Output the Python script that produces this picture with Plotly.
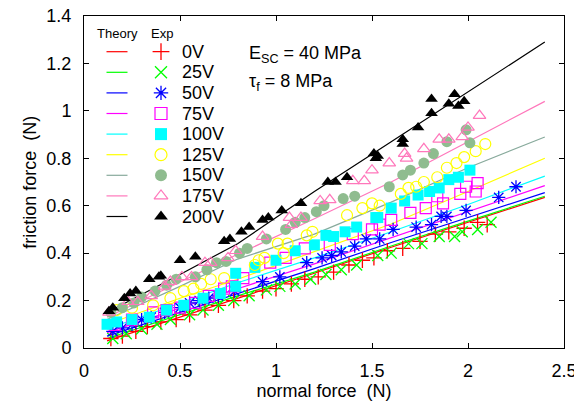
import plotly.graph_objects as go

# ---------------- data ----------------
labels = ["0V", "25V", "50V", "75V", "100V", "125V", "150V", "175V", "200V"]
colors = ["#ff0000", "#00ff00", "#0000ff", "#ff00ff", "#00ffff", "#ffff00",
          "#8fbc8f", "#ff77bb", "#000000"]
line_colors = ["#ff0000", "#00ff00", "#0000ff", "#ff00ff", "#00ffff", "#ffff00",
               "#88aa9c", "#ff77bb", "#000000"]
symbols = ["cross-thin", "x-thin", "asterisk", "square-open", "square",
           "circle-open", "circle", "triangle-up-open", "triangle-up"]

theory_x = [0.12, 0.5, 0.8, 1.2, 1.6, 2.0, 2.4]
theory_0 = [0.03, 0.13, 0.21, 0.315, 0.425, 0.53, 0.635]
theory_25 = [0.04, 0.14, 0.22, 0.32, 0.43, 0.535, 0.64]
theory_50 = [0.05, 0.15, 0.23, 0.335, 0.445, 0.55, 0.655]
theory_75 = [0.065, 0.17, 0.25, 0.355, 0.465, 0.575, 0.685]
theory_100 = [0.08, 0.19, 0.275, 0.38, 0.49, 0.605, 0.725]
theory_125 = [0.10, 0.21, 0.29, 0.405, 0.523, 0.66, 0.80]
theory_150 = [0.12, 0.26, 0.375, 0.48, 0.615, 0.76, 0.89]
theory_175 = [0.13, 0.28, 0.395, 0.545, 0.70, 0.87, 1.04]
theory_200 = [0.15, 0.31, 0.44, 0.66, 0.87, 1.08, 1.29]

exp_x_0 = [0.14, 0.2, 0.27, 0.33, 0.4, 0.48, 0.55, 0.63, 0.7, 0.78, 0.85, 0.93, 1.0, 1.08,
           1.15, 1.22, 1.3, 1.38, 1.45, 1.51, 1.58, 1.66, 1.75, 1.83, 1.90, 1.98, 2.05, 2.10]
exp_y_0 = [0.04, 0.05, 0.07, 0.09, 0.11, 0.12, 0.14, 0.16, 0.18, 0.20, 0.22, 0.24, 0.25, 0.27,
           0.29, 0.30, 0.32, 0.35, 0.37, 0.38, 0.41, 0.42, 0.45, 0.48, 0.49, 0.505, 0.53, 0.52]

exp_x_25 = [0.15, 0.22, 0.3, 0.38, 0.45, 0.55, 0.62, 0.7, 0.78, 0.86, 0.95, 1.02, 1.10, 1.18,
            1.26, 1.34, 1.42, 1.53, 1.60, 1.69, 1.76, 1.85, 1.93, 1.97, 2.05, 2.12]
exp_y_25 = [0.04, 0.06, 0.08, 0.10, 0.12, 0.14, 0.16, 0.18, 0.20, 0.22, 0.245, 0.26, 0.27, 0.29,
            0.31, 0.33, 0.35, 0.39, 0.40, 0.44, 0.44, 0.47, 0.47, 0.49, 0.50, 0.53]

exp_x_50 = [0.15, 0.2, 0.25, 0.3, 0.35, 0.42, 0.5, 0.55, 0.6, 0.65, 0.7, 0.785, 0.93, 1.02,
            1.16, 1.24, 1.29, 1.34, 1.41, 1.47, 1.54, 1.61, 1.73, 1.81, 1.86, 1.89, 1.99,
            2.16, 2.25]
exp_y_50 = [0.07, 0.085, 0.10, 0.12, 0.13, 0.15, 0.17, 0.19, 0.20, 0.21, 0.22, 0.24, 0.28, 0.30,
            0.36, 0.38, 0.39, 0.405, 0.43, 0.46, 0.46, 0.50, 0.51, 0.52, 0.555, 0.555, 0.58,
            0.635, 0.68]

exp_x_75 = [0.16, 0.25, 0.36, 0.43, 0.50, 0.58, 0.65, 0.73, 0.77, 0.83, 0.97, 1.05, 1.15, 1.28,
            1.40, 1.50, 1.54, 1.60, 1.70, 1.78, 1.84, 1.87, 1.96, 1.99, 2.04, 2.05]
exp_y_75 = [0.097, 0.12, 0.15, 0.16, 0.17, 0.19, 0.22, 0.25, 0.26, 0.295, 0.36, 0.38, 0.42, 0.435,
            0.48, 0.50, 0.52, 0.54, 0.57, 0.59, 0.64, 0.61, 0.65, 0.68, 0.66, 0.695]

exp_x_100 = [0.12, 0.17, 0.25, 0.34, 0.43, 0.52, 0.62, 0.71, 0.79, 0.79, 0.89, 1.0, 1.10, 1.20,
             1.26, 1.30, 1.36, 1.42, 1.52, 1.53, 1.60, 1.67, 1.74, 1.80, 1.85, 1.90, 1.95, 2.01]
exp_y_100 = [0.10, 0.11, 0.12, 0.13, 0.16, 0.18, 0.21, 0.23, 0.26, 0.315, 0.34, 0.37, 0.41, 0.435,
             0.475, 0.47, 0.49, 0.51, 0.55, 0.55, 0.59, 0.62, 0.645, 0.66, 0.675, 0.71, 0.72, 0.75]

exp_x_125 = [0.17, 0.25, 0.36, 0.45, 0.52, 0.57, 0.61, 0.66, 0.73, 0.89, 0.91, 0.94, 1.01, 1.04,
             1.06, 1.16, 1.19, 1.37, 1.45, 1.50, 1.54, 1.65, 1.69, 1.73, 1.77, 1.84, 1.89, 1.94,
             1.98, 2.04, 2.09]
exp_y_125 = [0.16, 0.17, 0.18, 0.21, 0.24, 0.25, 0.27, 0.29, 0.295, 0.35, 0.37, 0.38, 0.44, 0.40,
             0.44, 0.475, 0.49, 0.56, 0.59, 0.61, 0.60, 0.65, 0.675, 0.68, 0.70, 0.72, 0.76, 0.78,
             0.805, 0.83, 0.86]

exp_x_150 = [0.14, 0.2, 0.26, 0.30, 0.37, 0.43, 0.48, 0.58, 0.64, 0.69, 0.74, 0.81, 0.85, 0.95,
             1.05, 1.10, 1.15, 1.21, 1.25, 1.35, 1.41, 1.59, 1.66, 1.70, 1.77, 1.82, 1.89, 1.99,
             2.01]
exp_y_150 = [0.15, 0.17, 0.19, 0.215, 0.24, 0.265, 0.29, 0.30, 0.33, 0.36, 0.365, 0.40, 0.42, 0.46,
             0.50, 0.53, 0.55, 0.575, 0.60, 0.63, 0.64, 0.68, 0.73, 0.75, 0.78, 0.82, 0.87, 0.92,
             0.865]

exp_x_175 = [0.13, 0.23, 0.28, 0.35, 0.42, 0.45, 0.51, 0.56, 0.63, 0.66, 0.75, 0.79, 0.93, 1.07,
             1.08, 1.13, 1.23, 1.28, 1.40, 1.46, 1.50, 1.59, 1.67, 1.68, 1.77, 1.85, 1.90, 1.97,
             2.00, 2.06]
exp_y_175 = [0.15, 0.195, 0.195, 0.22, 0.26, 0.28, 0.30, 0.30, 0.36, 0.36, 0.38, 0.41, 0.47, 0.55,
             0.52, 0.55, 0.62, 0.625, 0.705, 0.705, 0.75, 0.78, 0.82, 0.80, 0.84, 0.88, 0.88, 0.89,
             0.93, 0.98]

exp_x_200 = [0.13, 0.15, 0.21, 0.24, 0.27, 0.34, 0.39, 0.40, 0.50, 0.58, 0.73, 0.76, 0.82, 0.86,
             0.93, 0.96, 1.03, 1.13, 1.27, 1.31, 1.37, 1.51, 1.52, 1.53, 1.66, 1.66, 1.74, 1.81,
             1.81, 1.90, 1.93, 1.95, 1.98]
exp_y_200 = [0.155, 0.17, 0.21, 0.23, 0.24, 0.29, 0.30, 0.305, 0.37, 0.385, 0.45, 0.46, 0.49, 0.51,
             0.54, 0.55, 0.58, 0.61, 0.70, 0.70, 0.72, 0.82, 0.80, 0.81, 0.88, 0.86, 0.93, 1.05,
             0.99, 1.03, 1.07, 1.02, 1.04]

x_ticks = [0, 0.5, 1, 1.5, 2, 2.5]
x_tick_text = ["0", "0.5", "1", "1.5", "2", "2.5"]
y_ticks = [0, 0.2, 0.4, 0.6, 0.8, 1.0, 1.2, 1.4]
y_tick_text = ["0", "0.2", "0.4", "0.6", "0.8", "1", "1.2", "1.4"]

theory_y = [theory_0, theory_25, theory_50, theory_75, theory_100,
            theory_125, theory_150, theory_175, theory_200]
exp_x = [exp_x_0, exp_x_25, exp_x_50, exp_x_75, exp_x_100,
         exp_x_125, exp_x_150, exp_x_175, exp_x_200]
exp_y = [exp_y_0, exp_y_25, exp_y_50, exp_y_75, exp_y_100,
         exp_y_125, exp_y_150, exp_y_175, exp_y_200]

FONT = "Liberation Sans, Arial, Helvetica, sans-serif"
fig = go.Figure()

# theory lines
for i in range(len(labels)):
    fig.add_trace(go.Scatter(x=theory_x, y=theory_y[i], mode="lines",
                             line=dict(color=line_colors[i], width=1.2),
                             showlegend=False, hoverinfo="skip"))


def marker_for(i, size=11):
    sym = symbols[i]
    if sym in ("cross-thin", "x-thin", "asterisk"):
        return dict(symbol=sym, size=size, color=colors[i],
                    line=dict(color=colors[i], width=1.3))
    if sym.endswith("open"):
        return dict(symbol=sym, size=size, color=colors[i],
                    line=dict(color=colors[i], width=1.2))
    return dict(symbol=sym, size=size, color=colors[i], line=dict(width=0))


# experimental points
for i in range(len(labels)):
    fig.add_trace(go.Scatter(x=exp_x[i], y=exp_y[i], mode="markers",
                             marker=marker_for(i), name=labels[i],
                             showlegend=False))

# manual two-column legend on an overlay axis measured in plot pixels
row0 = 35.7
dy = 20.6
for i in range(len(labels)):
    yy = row0 + i * dy
    fig.add_trace(go.Scatter(x=[22.5, 43.5], y=[yy, yy], mode="lines",
                             line=dict(color=line_colors[i], width=1.2),
                             xaxis="x2", yaxis="y2", showlegend=False,
                             hoverinfo="skip"))
    fig.add_trace(go.Scatter(x=[77], y=[yy], mode="markers",
                             marker=marker_for(i, 12),
                             xaxis="x2", yaxis="y2", showlegend=False,
                             hoverinfo="skip"))
    fig.add_annotation(x=96, y=yy, xref="x2", yref="y2", text=labels[i],
                       showarrow=False, xanchor="left", yanchor="middle",
                       font=dict(family=FONT, size=18, color="black"))

fig.add_annotation(x=33, y=17, xref="x2", yref="y2", text="Theory",
                   showarrow=False, xanchor="center", yanchor="middle",
                   font=dict(family=FONT, size=13, color="black"))
fig.add_annotation(x=78, y=17, xref="x2", yref="y2", text="Exp",
                   showarrow=False, xanchor="center", yanchor="middle",
                   font=dict(family=FONT, size=13, color="black"))

fig.add_annotation(x=163, y=38, xref="x2", yref="y2",
                   text="E<sub>SC</sub> = 40 MPa",
                   showarrow=False, xanchor="left", yanchor="middle",
                   font=dict(family=FONT, size=18, color="black"))
fig.add_annotation(x=163, y=66, xref="x2", yref="y2",
                   text="τ<sub>f</sub> = 8 MPa",
                   showarrow=False, xanchor="left", yanchor="middle",
                   font=dict(family=FONT, size=18, color="black"))

# y-axis title placed as a rotated annotation (standoff is ignored without automargin)
fig.add_annotation(x=-0.113, y=0.5, xref="paper", yref="paper",
                   text="friction force  (N)", textangle=-90,
                   showarrow=False, xanchor="center", yanchor="middle",
                   font=dict(family=FONT, size=18, color="black"))

axis_common = dict(showline=True, linecolor="black", linewidth=1,
                   mirror="ticks", ticks="inside", ticklen=5, tickcolor="black",
                   tickwidth=1, showgrid=False, zeroline=False, automargin=False,
                   ticklabeloverflow="allow",
                   tickfont=dict(family=FONT, size=18, color="black"))

# the page body adds an 8px offset, so the figure is 8px smaller than the window
fig.update_layout(
    width=574, height=396,
    margin=dict(l=76, r=18, t=8, b=56),
    paper_bgcolor="white", plot_bgcolor="white",
    xaxis=dict(range=[0, 2.5], tickvals=x_ticks, ticktext=x_tick_text,
               ticklabelstandoff=6,
               title=dict(text="normal force  (N)", standoff=2,
                          font=dict(family=FONT, size=18, color="black")),
               **axis_common),
    yaxis=dict(range=[0, 1.4], tickvals=y_ticks, ticktext=y_tick_text,
               ticklabelstandoff=8,
               **axis_common),
    xaxis2=dict(range=[0, 480], overlaying="x", anchor="y2", visible=False,
                fixedrange=True),
    yaxis2=dict(range=[332, 0], overlaying="y", anchor="x2", visible=False,
                fixedrange=True),
    showlegend=False,
)

fig.write_html("out.html")
